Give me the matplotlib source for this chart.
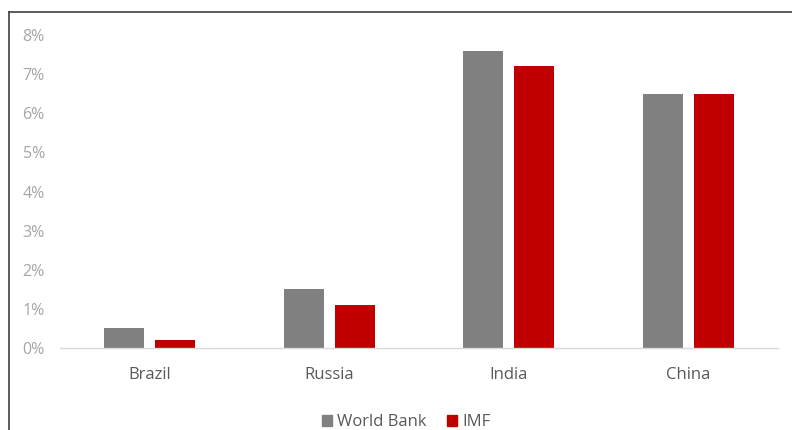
import matplotlib
matplotlib.use("Agg")
import matplotlib.pyplot as plt
import numpy as np
from matplotlib.lines import Line2D
from matplotlib.patches import Patch

categories = ["Brazil", "Russia", "India", "China"]
world_bank = [0.5, 1.5, 7.6, 6.5]
imf = [0.2, 1.1, 7.2, 6.5]
ytick_labels = ["0%", "1%", "2%", "3%", "4%", "5%", "6%", "7%", "8%"]

plt.rcParams['font.family'] = ['Open Sans', 'DejaVu Sans']

fig = plt.figure(figsize=(7.92, 4.30), dpi=100)
ax = fig.add_axes([0.0758, 0.1907, 0.9062, 0.7279])

x = np.arange(len(categories))
w = 0.223
gap = 0.061
ax.bar(x - (w + gap) / 2, world_bank, width=w, color="#808080", label="World Bank")
ax.bar(x + (w + gap) / 2, imf, width=w, color="#c00000", label="IMF")

ax.set_xlim(-0.5, 3.5)
ax.set_ylim(0, 8)
ax.set_yticks(range(9))
ax.set_yticklabels(ytick_labels, color="#a6a6a6", fontsize=11.5)
ax.set_xticks(x)
ax.set_xticklabels(categories, color="#595959", fontsize=12)
ax.tick_params(axis="both", length=0)
ax.tick_params(axis="y", pad=11)
ax.tick_params(axis="x", pad=14)
for s in ["top", "right", "left"]:
    ax.spines[s].set_visible(False)
ax.spines["bottom"].set_color("#d9d9d9")
ax.spines["bottom"].set_linewidth(1)

handles = [Patch(color="#808080"), Patch(color="#c00000")]
fig.legend(handles, ["World Bank", "IMF"], loc="center", bbox_to_anchor=(0.513, 0.018),
           ncol=2, frameon=False, fontsize=12, labelcolor="#595959",
           handlelength=0.6, handleheight=0.6, handletextpad=0.3, columnspacing=1.2)

# partial frame (top and left)
fig.add_artist(Line2D([9/792, 9/792], [0, 1 - 12/430], color="#404040", lw=1.2, transform=fig.transFigure))
fig.add_artist(Line2D([9/792, 1], [1 - 12/430, 1 - 12/430], color="#404040", lw=1.2, transform=fig.transFigure))

fig.savefig("out.png", dpi=100)
